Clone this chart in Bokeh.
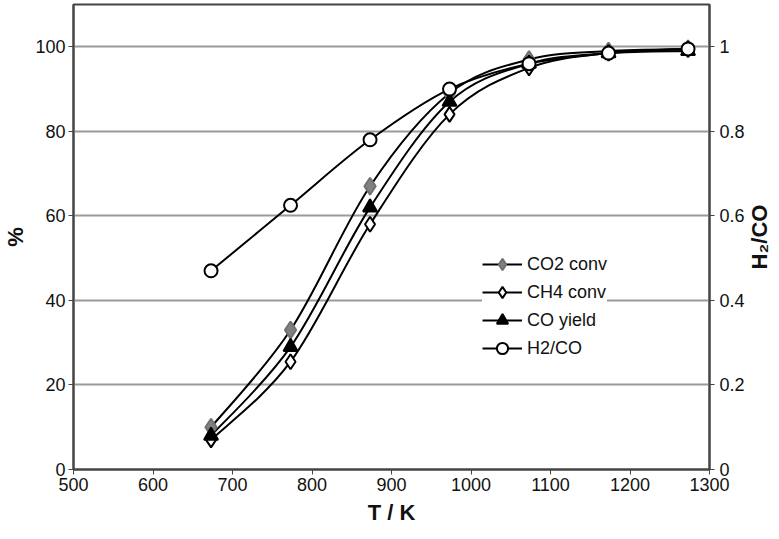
import math
from bokeh.plotting import figure
from bokeh.layouts import row
from bokeh.models import (Range1d, LinearAxis, FixedTicker, CustomJSTickFormatter,
                          Legend, LegendItem, Label)
from bokeh.embed import file_html
from bokeh.resources import INLINE

T = [673, 773, 873, 973, 1073, 1173, 1273]
co2_conv = [10, 33, 67, 89, 97, 99, 99.5]
ch4_conv = [7, 25.5, 58, 84, 95, 98.5, 99.5]
co_yield = [8, 29, 62, 87, 96, 98.5, 99]
h2_co = [0.47, 0.625, 0.78, 0.9, 0.96, 0.985, 0.995]

x_ticks = [500, 600, 700, 800, 900, 1000, 1100, 1200, 1300]
y_ticks = [0, 20, 40, 60, 80, 100]
y2_ticks = [0, 0.2, 0.4, 0.6, 0.8, 1]

FONT = "Liberation Sans"
H = 531
TOP = 4
BOTTOM = 62

p = figure(width=747, height=H, output_backend="svg", toolbar_location=None,
           x_range=Range1d(500, 1300), y_range=Range1d(0, 110),
           min_border_left=64, min_border_right=30, min_border_top=TOP,
           min_border_bottom=BOTTOM)
p.extra_y_ranges = {"r": Range1d(0, 1.10)}

p.outline_line_color = "#444444"
p.outline_line_width = 2
p.xgrid.visible = False
p.ygrid.ticker = FixedTicker(ticks=y_ticks[1:])
p.ygrid.grid_line_color = "#9a9a9a"
p.ygrid.grid_line_width = 2


def style_axis(ax):
    ax.axis_line_color = "#444444"
    ax.axis_line_width = 2
    ax.major_tick_in = 0
    ax.major_tick_out = 5
    ax.major_tick_line_color = "#444444"
    ax.minor_tick_line_color = None
    ax.major_label_text_font = FONT
    ax.major_label_text_font_size = "18px"
    ax.major_label_text_color = "#111111"
    ax.axis_label_text_font = FONT
    ax.axis_label_text_font_style = "bold"
    ax.axis_label_text_font_size = "22px"
    ax.axis_label_text_color = "#111111"


style_axis(p.xaxis[0])
style_axis(p.yaxis[0])
p.xaxis[0].ticker = FixedTicker(ticks=x_ticks)
p.yaxis[0].ticker = FixedTicker(ticks=y_ticks)
p.xaxis[0].axis_label = "T / K"
p.yaxis[0].axis_label = "%"
p.xaxis[0].major_label_standoff = 3
p.xaxis[0].axis_label_standoff = 6
p.yaxis[0].major_label_standoff = 3
p.yaxis[0].axis_label_standoff = 4

ax2 = LinearAxis(y_range_name="r", ticker=FixedTicker(ticks=y2_ticks),
                 formatter=CustomJSTickFormatter(code="return String(Math.round(tick*10)/10)"))
style_axis(ax2)
ax2.major_label_standoff = 5
p.add_layout(ax2, "right")


def smooth(xs, ys, t=1.0 / 6):
    # Catmull-Rom style bezier control points for a smoothed line through the data
    n = len(xs)
    seg = dict(x0=[], y0=[], x1=[], y1=[], cx0=[], cy0=[], cx1=[], cy1=[])
    for i in range(n - 1):
        xa, ya = xs[max(i - 1, 0)], ys[max(i - 1, 0)]
        xb, yb = xs[i], ys[i]
        xc, yc = xs[i + 1], ys[i + 1]
        xd, yd = xs[min(i + 2, n - 1)], ys[min(i + 2, n - 1)]
        seg["x0"].append(xb); seg["y0"].append(yb)
        seg["x1"].append(xc); seg["y1"].append(yc)
        seg["cx0"].append(xb + (xc - xa) * t); seg["cy0"].append(yb + (yc - ya) * t)
        seg["cx1"].append(xc - (xd - xb) * t); seg["cy1"].append(yc - (yd - yb) * t)
    return seg


items = []
series = [
    ("CO2 conv", co2_conv, "default", "diamond", "#808080", "#707070", 17),
    ("CH4 conv", ch4_conv, "default", "diamond", "white", "black", 15),
    ("CO yield", co_yield, "default", "triangle", "black", "black", 14),
    ("H2/CO", h2_co, "r", "circle", "white", "black", 13),
]
renderers = {}
for name, ys, rng, marker, fill, line, size in series:
    s = smooth(T, ys)
    lr = p.bezier(line_color="black", line_width=2, y_range_name=rng, **s)
    renderers[name] = [lr]
for name, ys, rng, marker, fill, line, size in series:
    mr = p.scatter(T, ys, marker=marker, size=size, fill_color=fill,
                   line_color=line, line_width=2, y_range_name=rng)
    renderers[name].append(mr)
    items.append(LegendItem(label=name, renderers=renderers[name]))

legend = Legend(items=items, location=(409, 107))
legend.border_line_color = None
legend.background_fill_color = "white"
legend.background_fill_alpha = 1
legend.label_text_font = FONT
legend.label_text_font_size = "18px"
legend.label_text_color = "#111111"
legend.glyph_width = 40
legend.glyph_height = 28
legend.label_height = 28
legend.spacing = 0
legend.padding = 4
legend.margin = 0
legend.label_standoff = 5
p.add_layout(legend, "center")

# narrow strip holding the right-axis title, reading bottom-to-top as in the original
p2 = figure(width=24, height=H, output_backend="svg", toolbar_location=None,
            x_range=Range1d(0, 1), y_range=Range1d(0, 1),
            min_border_left=0, min_border_right=0, min_border_top=TOP,
            min_border_bottom=BOTTOM)
p2.axis.visible = False
p2.grid.visible = False
p2.outline_line_color = None
p2.add_layout(Label(x=0.5, y=0.5, text="H\u2082/CO", angle=math.pi / 2,
                    text_align="center", text_baseline="middle",
                    text_font=FONT, text_font_style="bold", text_font_size="22px",
                    text_color="#111111"))

layout = row(p, p2, spacing=0)
open("out.html", "w").write(file_html(layout, INLINE))
